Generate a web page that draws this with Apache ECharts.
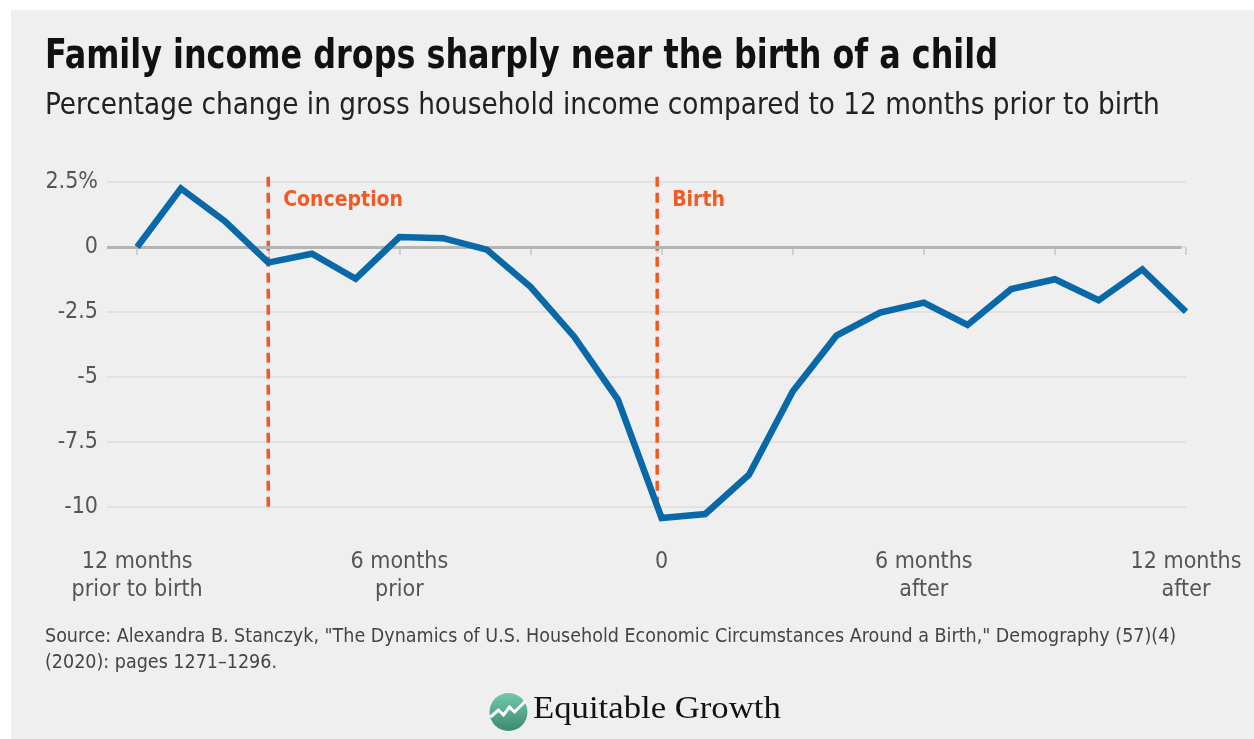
<!DOCTYPE html>
<html>
<head>
<meta charset="utf-8">
<script src="https://cdn.jsdelivr.net/npm/echarts@6/dist/echarts.min.js"></script>
<style>
  html, body { margin: 0; padding: 0; background: #ffffff; }
  #panel { position: absolute; left: 11px; top: 10px; width: 1243px; height: 729px; background: #efefef; }
  #chart { position: absolute; left: 0; top: 0; width: 1254px; height: 739px; }
</style>
</head>
<body>
<div id="panel"></div>
<div id="chart"></div>
<script>
// Months relative to birth (-12 .. 12)
const months = [-12, -11, -10, -9, -8, -7, -6, -5, -4, -3, -2, -1, 0, 1, 2, 3, 4, 5, 6, 7, 8, 9, 10, 11, 12];
// Percentage change in gross household income vs. 12 months before birth
const incomeChange = [0, 2.25, 1.0, -0.6, -0.26, -1.22, 0.38, 0.34, -0.1, -1.53, -3.45, -5.87, -10.42,
  -10.27, -8.76, -5.56, -3.41, -2.52, -2.14, -3.0, -1.62, -1.24, -2.05, -0.86, -2.49];

// Axis ticks and labels
const xTickMonths = [-12, -9, -6, -3, 0, 3, 6, 9, 12];
const xLabelMonths = [-12, -6, 0, 6, 12];
const xLabelText = {
  '-12': '12 months\nprior to birth',
  '-6': '6 months\nprior',
  '0': '0',
  '6': '6 months\nafter',
  '12': '12 months\nafter'
};
const yTicks = { min: -10, max: 2.5, step: 2.5 };

// Event markers (month) and the vertical extent of their dashed rules
const events = [
  { name: 'Conception', month: -9 },
  { name: 'Birth', month: -0.1 }
];
const eventSpan = [2.7, -10.1];

const BLUE = '#0868a8';
const ORANGE = '#f15a24';
const GREY_TEXT = '#555555';
const NARROW = '"Liberation Sans Narrow", "DejaVu Sans Condensed", sans-serif';

const chart = echarts.init(document.getElementById('chart'), null, { renderer: 'canvas' });

const lineData = months.map((m, i) => [m, incomeChange[i]]);
const xMin = -12.69;

// One dashed vertical series per event, labelled at its top
const eventSeries = events.map(e => ({
  type: 'line',
  name: e.name,
  data: eventSpan.map(v => [e.month, v]),
  symbol: 'none',
  clip: false,
  silent: true,
  lineStyle: { color: ORANGE, width: 3.5, type: [10, 6] },
  markPoint: {
    symbol: 'circle',
    symbolSize: 0,
    silent: true,
    label: {
      show: true,
      position: 'right',
      distance: 15,
      color: ORANGE,
      fontFamily: NARROW,
      fontWeight: 'bold',
      fontSize: 21,
      formatter: p => p.name
    },
    data: [{ name: e.name, coord: [e.month, 1.8] }]
  },
  z: 2
}));

const option = {
  backgroundColor: 'transparent',
  animation: false,
  grid: { left: 107, right: 68, top: 182, bottom: 232 },
  xAxis: {
    type: 'value',
    min: xMin,
    max: 12,
    offset: 26,
    axisLine: { show: false },
    splitLine: { show: false },
    axisTick: {
      show: true,
      customValues: xTickMonths,
      length: 8,
      lineStyle: { color: '#cfcfcf', width: 2 }
    },
    axisLabel: {
      customValues: xLabelMonths,
      formatter: v => xLabelText[String(v)] || '',
      color: GREY_TEXT,
      fontFamily: NARROW,
      fontSize: 23,
      lineHeight: 28,
      margin: 15
    }
  },
  yAxis: {
    type: 'value',
    min: yTicks.min,
    max: yTicks.max,
    interval: yTicks.step,
    axisLine: { show: false },
    axisTick: { show: false },
    splitLine: { lineStyle: { color: '#dcdcdc', width: 1.5 } },
    axisLabel: {
      formatter: v => v === 2.5 ? '2.5%' : String(v),
      color: GREY_TEXT,
      fontFamily: NARROW,
      fontSize: 23,
      margin: 9
    }
  },
  series: [
    {
      type: 'line',
      data: [],
      silent: true,
      clip: false,
      markLine: {
        symbol: 'none',
        silent: true,
        label: { show: false },
        lineStyle: { color: '#b4b4b4', width: 3, type: 'solid' },
        data: [[{ coord: [xMin, 0] }, { coord: [11.9, 0] }]]
      },
      z: 1
    },
    ...eventSeries,
    {
      type: 'line',
      data: lineData,
      symbol: 'none',
      clip: false,
      lineStyle: { color: BLUE, width: 6.5, join: 'miter' },
      z: 5
    }
  ],
  graphic: [
    {
      type: 'text', left: 45, top: 38, scaleX: 0.885,
      style: {
        text: 'Family income drops sharply near the birth of a child',
        fill: '#111111', font: 'bold 40px ' + NARROW
      }
    },
    {
      type: 'text', left: 45, top: 92,
      style: {
        text: 'Percentage change in gross household income compared to 12 months prior to birth',
        fill: '#222222', font: '29.3px ' + NARROW
      }
    },
    {
      type: 'text', left: 45, top: 624,
      style: {
        text: 'Source: Alexandra B. Stanczyk, "The Dynamics of U.S. Household Economic Circumstances Around a Birth," Demography (57)(4)\n(2020): pages 1271\u20131296.',
        fill: '#444444', font: '19.5px ' + NARROW, lineHeight: 26
      }
    },
    {
      type: 'group', left: 488, top: 693,
      children: [
        {
          type: 'circle', shape: { cx: 19, cy: 19, r: 19 },
          style: {
            fill: new echarts.graphic.LinearGradient(0, 0, 0, 1, [
              { offset: 0, color: '#72c9aa' },
              { offset: 1, color: '#3b8a71' }
            ])
          }
        },
        {
          type: 'polyline',
          shape: { points: [[1, 24], [9, 17], [14, 22], [20, 14], [25, 19], [36, 8]] },
          style: { stroke: '#ffffff', lineWidth: 3, fill: null }
        }
      ]
    },
    {
      type: 'text', left: 533, top: 694, scaleX: 1.12,
      style: {
        text: 'Equitable Growth',
        fill: '#111111', font: '31px "Liberation Serif", "DejaVu Serif", serif'
      }
    }
  ]
};

chart.setOption(option);
</script>
</body>
</html>
